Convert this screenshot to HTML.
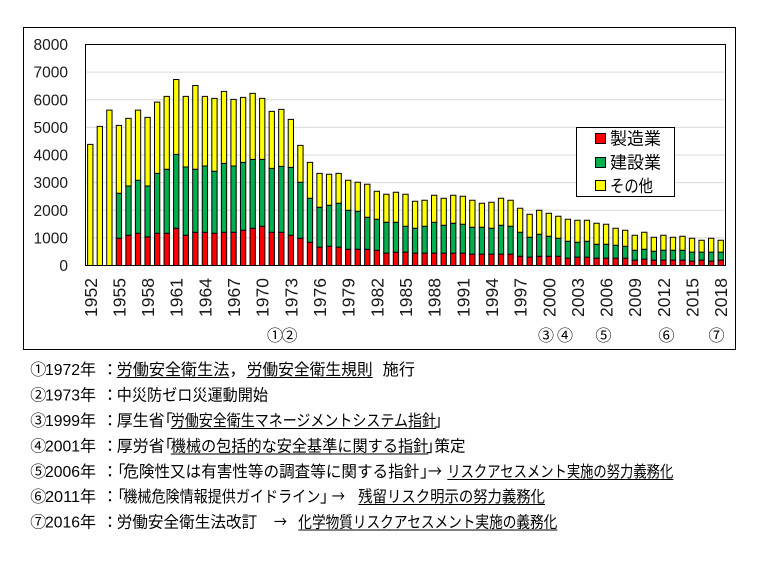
<!DOCTYPE html>
<html><head><meta charset="utf-8">
<style>
html,body{margin:0;padding:0;background:#fff;}
svg{display:block}
text{font-family:"Liberation Sans","Noto Sans CJK JP",sans-serif;}
.r{fill:#ff0000}.g{fill:#00b050}.y{fill:#ffff00}
#bars rect{stroke:#000;stroke-width:1px;vector-effect:non-scaling-stroke}
.yl{font-size:15.5px;fill:#1a1a1a;text-anchor:end}
.xl{font-size:17.5px;fill:#1a1a1a;text-anchor:end}
.cn{font-size:16px;fill:#000;text-anchor:middle}
.t{font-size:16px;fill:#000}
.ar{font-family:"Noto Sans CJK JP",sans-serif;font-size:16px;fill:#000}
</style></head><body>
<svg width="766" height="563" viewBox="0 0 766 563">
<rect x="0" y="0" width="766" height="563" fill="#fff"/>
<rect x="23.5" y="27.5" width="712" height="322" fill="#fff" stroke="#000"/>
<g stroke="#d9d9d9" stroke-width="1">
<line x1="85.5" x2="725.5" y1="237.875" y2="237.875"/>
<line x1="85.5" x2="725.5" y1="210.25" y2="210.25"/>
<line x1="85.5" x2="725.5" y1="182.625" y2="182.625"/>
<line x1="85.5" x2="725.5" y1="155" y2="155"/>
<line x1="85.5" x2="725.5" y1="127.375" y2="127.375"/>
<line x1="85.5" x2="725.5" y1="99.75" y2="99.75"/>
<line x1="85.5" x2="725.5" y1="72.125" y2="72.125"/>
</g>
<g id="bars" transform="translate(85.5,265.5) scale(9.552,-0.027625)">
<rect class="y" x="0.2225" y="0" width=".555" height="4385"/>
<rect class="y" x="1.2225" y="0" width=".555" height="5036"/>
<rect class="y" x="2.2225" y="0" width=".555" height="5626"/>
<rect class="r" x="3.2225" y="0" width=".555" height="988"/><rect class="g" x="3.2225" y="988" width=".555" height="1626"/><rect class="y" x="3.2225" y="2614" width=".555" height="2458"/>
<rect class="r" x="4.2225" y="0" width=".555" height="1096"/><rect class="g" x="4.2225" y="1096" width=".555" height="1784"/><rect class="y" x="4.2225" y="2880" width=".555" height="2445"/>
<rect class="r" x="5.2225" y="0" width=".555" height="1169"/><rect class="g" x="5.2225" y="1169" width=".555" height="1915"/><rect class="y" x="5.2225" y="3084" width=".555" height="2542"/>
<rect class="r" x="6.2225" y="0" width=".555" height="1036"/><rect class="g" x="6.2225" y="1036" width=".555" height="1844"/><rect class="y" x="6.2225" y="2880" width=".555" height="2481"/>
<rect class="r" x="7.2225" y="0" width=".555" height="1169"/><rect class="g" x="7.2225" y="1169" width=".555" height="2168"/><rect class="y" x="7.2225" y="3337" width=".555" height="2579"/>
<rect class="r" x="8.2225" y="0" width=".555" height="1169"/><rect class="g" x="8.2225" y="1169" width=".555" height="2313"/><rect class="y" x="8.2225" y="3482" width=".555" height="2638"/>
<rect class="r" x="9.2225" y="0" width=".555" height="1349"/><rect class="g" x="9.2225" y="1349" width=".555" height="2675"/><rect class="y" x="9.2225" y="4024" width=".555" height="2711"/>
<rect class="r" x="10.2225" y="0" width=".555" height="1096"/><rect class="g" x="10.2225" y="1096" width=".555" height="2470"/><rect class="y" x="10.2225" y="3566" width=".555" height="2554"/>
<rect class="r" x="11.2225" y="0" width=".555" height="1205"/><rect class="g" x="11.2225" y="1205" width=".555" height="2277"/><rect class="y" x="11.2225" y="3482" width=".555" height="3036"/>
<rect class="r" x="12.2225" y="0" width=".555" height="1205"/><rect class="g" x="12.2225" y="1205" width=".555" height="2397"/><rect class="y" x="12.2225" y="3602" width=".555" height="2518"/>
<rect class="r" x="13.2225" y="0" width=".555" height="1169"/><rect class="g" x="13.2225" y="1169" width=".555" height="2241"/><rect class="y" x="13.2225" y="3410" width=".555" height="2638"/>
<rect class="r" x="14.2225" y="0" width=".555" height="1205"/><rect class="g" x="14.2225" y="1205" width=".555" height="2494"/><rect class="y" x="14.2225" y="3699" width=".555" height="2602"/>
<rect class="r" x="15.2225" y="0" width=".555" height="1205"/><rect class="g" x="15.2225" y="1205" width=".555" height="2397"/><rect class="y" x="15.2225" y="3602" width=".555" height="2410"/>
<rect class="r" x="16.2225" y="0" width=".555" height="1277"/><rect class="g" x="16.2225" y="1277" width=".555" height="2458"/><rect class="y" x="16.2225" y="3735" width=".555" height="2349"/>
<rect class="r" x="17.2225" y="0" width=".555" height="1349"/><rect class="g" x="17.2225" y="1349" width=".555" height="2494"/><rect class="y" x="17.2225" y="3843" width=".555" height="2386"/>
<rect class="r" x="18.2225" y="0" width=".555" height="1422"/><rect class="g" x="18.2225" y="1422" width=".555" height="2421"/><rect class="y" x="18.2225" y="3843" width=".555" height="2205"/>
<rect class="r" x="19.2225" y="0" width=".555" height="1205"/><rect class="g" x="19.2225" y="1205" width=".555" height="2313"/><rect class="y" x="19.2225" y="3518" width=".555" height="2060"/>
<rect class="r" x="20.2225" y="0" width=".555" height="1205"/><rect class="g" x="20.2225" y="1205" width=".555" height="2385"/><rect class="y" x="20.2225" y="3590" width=".555" height="2060"/>
<rect class="r" x="21.2225" y="0" width=".555" height="1096"/><rect class="g" x="21.2225" y="1096" width=".555" height="2458"/><rect class="y" x="21.2225" y="3554" width=".555" height="1735"/>
<rect class="r" x="22.2225" y="0" width=".555" height="988"/><rect class="g" x="22.2225" y="988" width=".555" height="2024"/><rect class="y" x="22.2225" y="3012" width=".555" height="1337"/>
<rect class="r" x="23.2225" y="0" width=".555" height="843"/><rect class="g" x="23.2225" y="843" width=".555" height="1591"/><rect class="y" x="23.2225" y="2434" width=".555" height="1301"/>
<rect class="r" x="24.2225" y="0" width=".555" height="663"/><rect class="g" x="24.2225" y="663" width=".555" height="1445"/><rect class="y" x="24.2225" y="2108" width=".555" height="1229"/>
<rect class="r" x="25.2225" y="0" width=".555" height="699"/><rect class="g" x="25.2225" y="699" width=".555" height="1482"/><rect class="y" x="25.2225" y="2181" width=".555" height="1120"/>
<rect class="r" x="26.2225" y="0" width=".555" height="663"/><rect class="g" x="26.2225" y="663" width=".555" height="1590"/><rect class="y" x="26.2225" y="2253" width=".555" height="1084"/>
<rect class="r" x="27.2225" y="0" width=".555" height="590"/><rect class="g" x="27.2225" y="590" width=".555" height="1410"/><rect class="y" x="27.2225" y="2000" width=".555" height="1084"/>
<rect class="r" x="28.2225" y="0" width=".555" height="590"/><rect class="g" x="28.2225" y="590" width=".555" height="1374"/><rect class="y" x="28.2225" y="1964" width=".555" height="1048"/>
<rect class="r" x="29.2225" y="0" width=".555" height="590"/><rect class="g" x="29.2225" y="590" width=".555" height="1157"/><rect class="y" x="29.2225" y="1747" width=".555" height="1193"/>
<rect class="r" x="30.2225" y="0" width=".555" height="554"/><rect class="g" x="30.2225" y="554" width=".555" height="1121"/><rect class="y" x="30.2225" y="1675" width=".555" height="1012"/>
<rect class="r" x="31.2225" y="0" width=".555" height="446"/><rect class="g" x="31.2225" y="446" width=".555" height="1120"/><rect class="y" x="31.2225" y="1566" width=".555" height="1012"/>
<rect class="r" x="32.2225" y="0" width=".555" height="482"/><rect class="g" x="32.2225" y="482" width=".555" height="1084"/><rect class="y" x="32.2225" y="1566" width=".555" height="1085"/>
<rect class="r" x="33.2225" y="0" width=".555" height="482"/><rect class="g" x="33.2225" y="482" width=".555" height="940"/><rect class="y" x="33.2225" y="1422" width=".555" height="1156"/>
<rect class="r" x="34.2225" y="0" width=".555" height="446"/><rect class="g" x="34.2225" y="446" width=".555" height="903"/><rect class="y" x="34.2225" y="1349" width=".555" height="976"/>
<rect class="r" x="35.2225" y="0" width=".555" height="446"/><rect class="g" x="35.2225" y="446" width=".555" height="976"/><rect class="y" x="35.2225" y="1422" width=".555" height="939"/>
<rect class="r" x="36.2225" y="0" width=".555" height="446"/><rect class="g" x="36.2225" y="446" width=".555" height="1120"/><rect class="y" x="36.2225" y="1566" width=".555" height="976"/>
<rect class="r" x="37.2225" y="0" width=".555" height="446"/><rect class="g" x="37.2225" y="446" width=".555" height="1012"/><rect class="y" x="37.2225" y="1458" width=".555" height="976"/>
<rect class="r" x="38.2225" y="0" width=".555" height="446"/><rect class="g" x="38.2225" y="446" width=".555" height="1084"/><rect class="y" x="38.2225" y="1530" width=".555" height="1012"/>
<rect class="r" x="39.2225" y="0" width=".555" height="446"/><rect class="g" x="39.2225" y="446" width=".555" height="1048"/><rect class="y" x="39.2225" y="1494" width=".555" height="1012"/>
<rect class="r" x="40.2225" y="0" width=".555" height="410"/><rect class="g" x="40.2225" y="410" width=".555" height="976"/><rect class="y" x="40.2225" y="1386" width=".555" height="975"/>
<rect class="r" x="41.2225" y="0" width=".555" height="410"/><rect class="g" x="41.2225" y="410" width=".555" height="976"/><rect class="y" x="41.2225" y="1386" width=".555" height="867"/>
<rect class="r" x="42.2225" y="0" width=".555" height="410"/><rect class="g" x="42.2225" y="410" width=".555" height="939"/><rect class="y" x="42.2225" y="1349" width=".555" height="940"/>
<rect class="r" x="43.2225" y="0" width=".555" height="410"/><rect class="g" x="43.2225" y="410" width=".555" height="1048"/><rect class="y" x="43.2225" y="1458" width=".555" height="976"/>
<rect class="r" x="44.2225" y="0" width=".555" height="410"/><rect class="g" x="44.2225" y="410" width=".555" height="1012"/><rect class="y" x="44.2225" y="1422" width=".555" height="939"/>
<rect class="r" x="45.2225" y="0" width=".555" height="337"/><rect class="g" x="45.2225" y="337" width=".555" height="868"/><rect class="y" x="45.2225" y="1205" width=".555" height="867"/>
<rect class="r" x="46.2225" y="0" width=".555" height="301"/><rect class="g" x="46.2225" y="301" width=".555" height="723"/><rect class="y" x="46.2225" y="1024" width=".555" height="831"/>
<rect class="r" x="47.2225" y="0" width=".555" height="337"/><rect class="g" x="47.2225" y="337" width=".555" height="796"/><rect class="y" x="47.2225" y="1133" width=".555" height="867"/>
<rect class="r" x="48.2225" y="0" width=".555" height="337"/><rect class="g" x="48.2225" y="337" width=".555" height="723"/><rect class="y" x="48.2225" y="1060" width=".555" height="832"/>
<rect class="r" x="49.2225" y="0" width=".555" height="337"/><rect class="g" x="49.2225" y="337" width=".555" height="651"/><rect class="y" x="49.2225" y="988" width=".555" height="795"/>
<rect class="r" x="50.2225" y="0" width=".555" height="265"/><rect class="g" x="50.2225" y="265" width=".555" height="615"/><rect class="y" x="50.2225" y="880" width=".555" height="795"/>
<rect class="r" x="51.2225" y="0" width=".555" height="301"/><rect class="g" x="51.2225" y="301" width=".555" height="542"/><rect class="y" x="51.2225" y="843" width=".555" height="796"/>
<rect class="r" x="52.2225" y="0" width=".555" height="301"/><rect class="g" x="52.2225" y="301" width=".555" height="579"/><rect class="y" x="52.2225" y="880" width=".555" height="759"/>
<rect class="r" x="53.2225" y="0" width=".555" height="265"/><rect class="g" x="53.2225" y="265" width=".555" height="506"/><rect class="y" x="53.2225" y="771" width=".555" height="759"/>
<rect class="r" x="54.2225" y="0" width=".555" height="265"/><rect class="g" x="54.2225" y="265" width=".555" height="506"/><rect class="y" x="54.2225" y="771" width=".555" height="723"/>
<rect class="r" x="55.2225" y="0" width=".555" height="265"/><rect class="g" x="55.2225" y="265" width=".555" height="470"/><rect class="y" x="55.2225" y="735" width=".555" height="614"/>
<rect class="r" x="56.2225" y="0" width=".555" height="265"/><rect class="g" x="56.2225" y="265" width=".555" height="434"/><rect class="y" x="56.2225" y="699" width=".555" height="578"/>
<rect class="r" x="57.2225" y="0" width=".555" height="193"/><rect class="g" x="57.2225" y="193" width=".555" height="361"/><rect class="y" x="57.2225" y="554" width=".555" height="542"/>
<rect class="r" x="58.2225" y="0" width=".555" height="229"/><rect class="g" x="58.2225" y="229" width=".555" height="361"/><rect class="y" x="58.2225" y="590" width=".555" height="615"/>
<rect class="r" x="59.2225" y="0" width=".555" height="193"/><rect class="g" x="59.2225" y="193" width=".555" height="325"/><rect class="y" x="59.2225" y="518" width=".555" height="506"/>
<rect class="r" x="60.2225" y="0" width=".555" height="193"/><rect class="g" x="60.2225" y="193" width=".555" height="361"/><rect class="y" x="60.2225" y="554" width=".555" height="542"/>
<rect class="r" x="61.2225" y="0" width=".555" height="193"/><rect class="g" x="61.2225" y="193" width=".555" height="361"/><rect class="y" x="61.2225" y="554" width=".555" height="470"/>
<rect class="r" x="62.2225" y="0" width=".555" height="193"/><rect class="g" x="62.2225" y="193" width=".555" height="361"/><rect class="y" x="62.2225" y="554" width=".555" height="506"/>
<rect class="r" x="63.2225" y="0" width=".555" height="157"/><rect class="g" x="63.2225" y="157" width=".555" height="325"/><rect class="y" x="63.2225" y="482" width=".555" height="506"/>
<rect class="r" x="64.2225" y="0" width=".555" height="193"/><rect class="g" x="64.2225" y="193" width=".555" height="289"/><rect class="y" x="64.2225" y="482" width=".555" height="434"/>
<rect class="r" x="65.2225" y="0" width=".555" height="157"/><rect class="g" x="65.2225" y="157" width=".555" height="325"/><rect class="y" x="65.2225" y="482" width=".555" height="506"/>
<rect class="r" x="66.2225" y="0" width=".555" height="193"/><rect class="g" x="66.2225" y="193" width=".555" height="289"/><rect class="y" x="66.2225" y="482" width=".555" height="434"/>
</g>
<rect x="85.5" y="44.5" width="640" height="221" fill="none" stroke="#000"/>

<text class="yl" x="68" y="271">0</text>
<text class="yl" x="68" y="243.4">1000</text>
<text class="yl" x="68" y="215.75">2000</text>
<text class="yl" x="68" y="188.1">3000</text>
<text class="yl" x="68" y="160.5">4000</text>
<text class="yl" x="68" y="132.9">5000</text>
<text class="yl" x="68" y="105.25">6000</text>
<text class="yl" x="68" y="77.6">7000</text>
<text class="yl" x="68" y="50">8000</text>

<text class="xl" transform="translate(96.8,278) rotate(-90)">1952</text>
<text class="xl" transform="translate(125.4,278) rotate(-90)">1955</text>
<text class="xl" transform="translate(154.1,278) rotate(-90)">1958</text>
<text class="xl" transform="translate(182.7,278) rotate(-90)">1961</text>
<text class="xl" transform="translate(211.4,278) rotate(-90)">1964</text>
<text class="xl" transform="translate(240.1,278) rotate(-90)">1967</text>
<text class="xl" transform="translate(268.7,278) rotate(-90)">1970</text>
<text class="xl" transform="translate(297.4,278) rotate(-90)">1973</text>
<text class="xl" transform="translate(326.0,278) rotate(-90)">1976</text>
<text class="xl" transform="translate(354.7,278) rotate(-90)">1979</text>
<text class="xl" transform="translate(383.3,278) rotate(-90)">1982</text>
<text class="xl" transform="translate(412.0,278) rotate(-90)">1985</text>
<text class="xl" transform="translate(440.6,278) rotate(-90)">1988</text>
<text class="xl" transform="translate(469.3,278) rotate(-90)">1991</text>
<text class="xl" transform="translate(498.0,278) rotate(-90)">1994</text>
<text class="xl" transform="translate(526.6,278) rotate(-90)">1997</text>
<text class="xl" transform="translate(555.3,278) rotate(-90)">2000</text>
<text class="xl" transform="translate(583.9,278) rotate(-90)">2003</text>
<text class="xl" transform="translate(612.6,278) rotate(-90)">2006</text>
<text class="xl" transform="translate(641.2,278) rotate(-90)">2009</text>
<text class="xl" transform="translate(669.9,278) rotate(-90)">2012</text>
<text class="xl" transform="translate(698.6,278) rotate(-90)">2015</text>
<text class="xl" transform="translate(727.2,278) rotate(-90)">2018</text>

<text class="cn" x="275" y="341">①</text>
<text class="cn" x="289.5" y="341">②</text>
<text class="cn" x="546" y="341">③</text>
<text class="cn" x="565" y="341">④</text>
<text class="cn" x="603.5" y="341">⑤</text>
<text class="cn" x="666.5" y="341">⑥</text>
<text class="cn" x="716.5" y="341">⑦</text>

<rect x="576.5" y="127.5" width="98" height="69" fill="#fff" stroke="#000"/>
<rect x="595.5" y="133.5" width="10" height="10" fill="#ff0000" stroke="#000"/>
<rect x="595.5" y="157.5" width="10" height="10" fill="#00b050" stroke="#000"/>
<rect x="595.5" y="180.5" width="10" height="10" fill="#ffff00" stroke="#000"/>
<text x="610" y="144.5" font-size="17" fill="#000">製造業</text>
<text x="610" y="168.5" font-size="17" fill="#000">建設業</text>
<text x="610" y="192" font-size="17" fill="#000" textLength="43" lengthAdjust="spacingAndGlyphs">その他</text>

<!-- line 1 -->
<text class="t" x="38.3" y="375" text-anchor="middle">①</text>
<text class="t" x="45" y="375" textLength="35" lengthAdjust="spacingAndGlyphs">1972</text>
<text class="t" x="80" y="375">年</text>
<text class="t" x="102" y="375">：</text>
<text class="t" x="116.7" y="375" textLength="112.6" lengthAdjust="spacingAndGlyphs">労働安全衛生法</text>
<text class="t" x="229.5" y="375">，</text>
<text class="t" x="246.7" y="375" textLength="126" lengthAdjust="spacingAndGlyphs">労働安全衛生規則</text>
<text class="t" x="382.7" y="375" textLength="32.3" lengthAdjust="spacingAndGlyphs">施行</text>
<!-- line 2 -->
<text class="t" x="38.3" y="400.5" text-anchor="middle">②</text>
<text class="t" x="45" y="400.5" textLength="35" lengthAdjust="spacingAndGlyphs">1973</text>
<text class="t" x="80" y="400.5">年</text>
<text class="t" x="102" y="400.5">：</text>
<text class="t" x="116.7" y="400.5" textLength="151.3" lengthAdjust="spacingAndGlyphs">中災防ゼロ災運動開始</text>
<!-- line 3 -->
<text class="t" x="38.3" y="426" text-anchor="middle">③</text>
<text class="t" x="45" y="426" textLength="35" lengthAdjust="spacingAndGlyphs">1999</text>
<text class="t" x="80" y="426">年</text>
<text class="t" x="102" y="426">：</text>
<text class="t" x="116.7" y="426" textLength="48" lengthAdjust="spacingAndGlyphs">厚生省</text>
<text class="t" x="157" y="426">「</text>
<text class="t" x="170.7" y="426" textLength="265.3" lengthAdjust="spacingAndGlyphs">労働安全衛生マネージメントシステム指針</text>
<text class="t" x="434" y="426">」</text>
<!-- line 4 -->
<text class="t" x="38.3" y="451.5" text-anchor="middle">④</text>
<text class="t" x="45" y="451.5" textLength="35" lengthAdjust="spacingAndGlyphs">2001</text>
<text class="t" x="80" y="451.5">年</text>
<text class="t" x="102" y="451.5">：</text>
<text class="t" x="116.7" y="451.5" textLength="48" lengthAdjust="spacingAndGlyphs">厚労省</text>
<text class="t" x="157" y="451.5">「</text>
<text class="t" x="170.7" y="451.5" textLength="257.6" lengthAdjust="spacingAndGlyphs">機械の包括的な安全基準に関する指針</text>
<text class="t" x="426" y="451.5">」</text>
<text class="t" x="434.5" y="451.5" textLength="31" lengthAdjust="spacingAndGlyphs">策定</text>
<!-- line 5 -->
<text class="t" x="38.3" y="477" text-anchor="middle">⑤</text>
<text class="t" x="45" y="477" textLength="35" lengthAdjust="spacingAndGlyphs">2006</text>
<text class="t" x="80" y="477">年</text>
<text class="t" x="102" y="477">：</text>
<text class="t" x="109.5" y="477">「</text>
<text class="t" x="123.3" y="477" textLength="296" lengthAdjust="spacingAndGlyphs">危険性又は有害性等の調査等に関する指針</text>
<text class="t" x="420" y="477">」</text>
<text class="ar" x="428" y="477" textLength="14" lengthAdjust="spacingAndGlyphs">→</text>
<text class="t" x="447.3" y="477" textLength="226" lengthAdjust="spacingAndGlyphs">リスクアセスメント実施の努力義務化</text>
<!-- line 6 -->
<text class="t" x="38.3" y="502" text-anchor="middle">⑥</text>
<text class="t" x="45" y="502" textLength="35" lengthAdjust="spacingAndGlyphs">2011</text>
<text class="t" x="80" y="502">年</text>
<text class="t" x="102" y="502">：</text>
<text class="t" x="109.5" y="502">「</text>
<text class="t" x="123.3" y="502" textLength="197" lengthAdjust="spacingAndGlyphs">機械危険情報提供ガイドライン</text>
<text class="t" x="320" y="502">」</text>
<text class="ar" x="331.7" y="502" textLength="13.3" lengthAdjust="spacingAndGlyphs">→</text>
<text class="t" x="358.3" y="502" textLength="186.7" lengthAdjust="spacingAndGlyphs">残留リスク明示の努力義務化</text>
<!-- line 7 -->
<text class="t" x="38.3" y="527.5" text-anchor="middle">⑦</text>
<text class="t" x="45" y="527.5" textLength="35" lengthAdjust="spacingAndGlyphs">2016</text>
<text class="t" x="80" y="527.5">年</text>
<text class="t" x="102" y="527.5">：</text>
<text class="t" x="116.7" y="527.5" textLength="140.6" lengthAdjust="spacingAndGlyphs">労働安全衛生法改訂</text>
<text class="ar" x="274" y="527.5" textLength="13" lengthAdjust="spacingAndGlyphs">→</text>
<text class="t" x="298.3" y="527.5" textLength="259" lengthAdjust="spacingAndGlyphs">化学物質リスクアセスメント実施の義務化</text>

<g stroke="#000" stroke-width="1">
<line x1="116.7" x2="229.3" y1="377.5" y2="377.5"/>
<line x1="246.7" x2="372.7" y1="377.5" y2="377.5"/>
<line x1="170.7" x2="436" y1="428.5" y2="428.5"/>
<line x1="170.7" x2="428.3" y1="454" y2="454"/>
<line x1="447.3" x2="673.3" y1="479.5" y2="479.5"/>
<line x1="358.3" x2="545" y1="504.5" y2="504.5"/>
<line x1="298.3" x2="557.3" y1="530" y2="530"/>
</g>
</svg>
</body></html>
